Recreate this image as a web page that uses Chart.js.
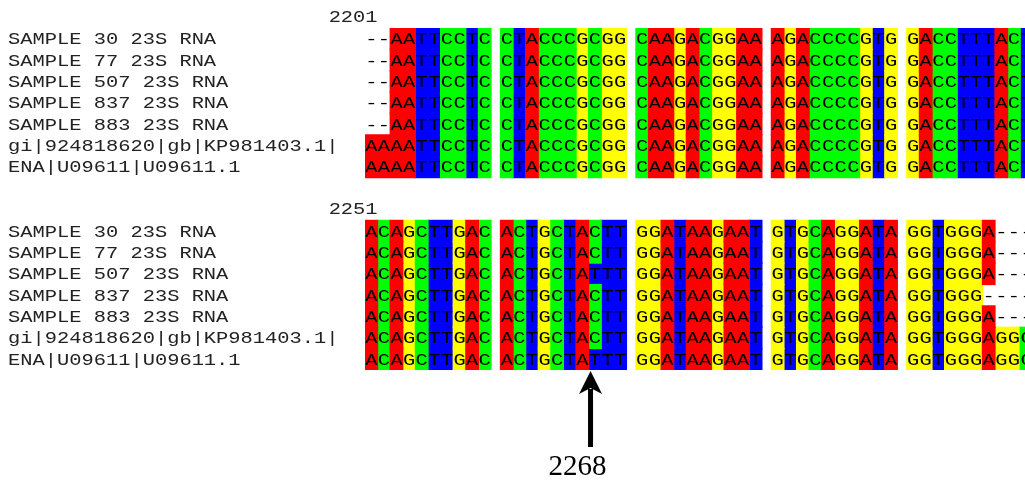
<!DOCTYPE html>
<html>
<head>
<meta charset="utf-8">
<script src="https://cdn.jsdelivr.net/npm/chart.js@4.4.0/dist/chart.umd.min.js"></script>
<style>
  html, body { margin: 0; padding: 0; background: #fff; }
  #wrap { width: 1025px; height: 482px; position: relative; }
</style>
</head>
<body>
<div id="wrap"><canvas id="alignChart"></canvas></div>
<script>
const rowNames = [
  "SAMPLE 30 23S RNA",
  "SAMPLE 77 23S RNA",
  "SAMPLE 507 23S RNA",
  "SAMPLE 837 23S RNA",
  "SAMPLE 883 23S RNA",
  "gi|924818620|gb|KP981403.1|",
  "ENA|U09611|U09611.1"
];
const lineStarts = [2201, 2251];
const seq2201 = [
  "--AATTCCTC CTACCCGCGG CAAGACGGAA AGACCCCGTG GACCTTTACT",
  "--AATTCCTC CTACCCGCGG CAAGACGGAA AGACCCCGTG GACCTTTACT",
  "--AATTCCTC CTACCCGCGG CAAGACGGAA AGACCCCGTG GACCTTTACT",
  "--AATTCCTC CTACCCGCGG CAAGACGGAA AGACCCCGTG GACCTTTACT",
  "--AATTCCTC CTACCCGCGG CAAGACGGAA AGACCCCGTG GACCTTTACT",
  "AAAATTCCTC CTACCCGCGG CAAGACGGAA AGACCCCGTG GACCTTTACT",
  "AAAATTCCTC CTACCCGCGG CAAGACGGAA AGACCCCGTG GACCTTTACT"
];
const seq2251 = [
  "ACAGCTTGAC ACTGCTACTT GGATAAGAAT GTGCAGGATA GGTGGGA---",
  "ACAGCTTGAC ACTGCTACTT GGATAAGAAT GTGCAGGATA GGTGGGA---",
  "ACAGCTTGAC ACTGCTATTT GGATAAGAAT GTGCAGGATA GGTGGGA---",
  "ACAGCTTGAC ACTGCTACTT GGATAAGAAT GTGCAGGATA GGTGGG----",
  "ACAGCTTGAC ACTGCTACTT GGATAAGAAT GTGCAGGATA GGTGGGA---",
  "ACAGCTTGAC ACTGCTACTT GGATAAGAAT GTGCAGGATA GGTGGGAGGC",
  "ACAGCTTGAC ACTGCTATTT GGATAAGAAT GTGCAGGATA GGTGGGAGGC"
];
const markPos = 2268;
const bases = ["A", "C", "G", "T"];
const baseColors = ["#ff0000", "#00ff00", "#ffff00", "#0000ff"];

const lines = [seq2201, seq2251];
const BLOCK_STEP = 10.75;   // 10 columns + gap between blocks
const LINE_STEP = 9;        // 7 rows + 2 blank rows
const MONO = '17px "Liberation Mono", "Courier New", monospace';

// one floating bar for each run of the same base inside a block
function buildData(base) {
  let out = [];
  lines.forEach((seqs, li) => {
    seqs.forEach((s, r) => {
      s.split(" ").forEach((blk, b) => {
        let i = 0;
        while (i < blk.length) {
          if (blk[i] !== base) { i++; continue; }
          let j = i;
          while (j < blk.length && blk[j] === base) j++;
          out.push({ x: [b * BLOCK_STEP + i, b * BLOCK_STEP + j], y: li * LINE_STEP + r });
          i = j;
        }
      });
    });
  });
  return out;
}

function wideText(ctx, txt, x, y, align) {
  ctx.save();
  ctx.translate(x, y);
  ctx.scale(1.2, 1);
  ctx.textAlign = align;
  ctx.fillText(txt, 0, 0);
  ctx.restore();
}

const alignText = {
  id: "alignText",
  afterDatasetsDraw(chart) {
    const ctx = chart.ctx;
    const xs = chart.scales.x, ys = chart.scales.y;
    ctx.save();
    ctx.font = MONO;
    ctx.textBaseline = "middle";
    lines.forEach((seqs, li) => {
      ctx.fillStyle = "#222";
      wideText(ctx, String(lineStarts[li]), xs.getPixelForValue(1), ys.getPixelForValue(li * LINE_STEP - 1), "right");
      seqs.forEach((s, r) => {
        const y = ys.getPixelForValue(li * LINE_STEP + r) + 1;
        ctx.fillStyle = "#222";
        wideText(ctx, rowNames[r], 8, y, "left");
        ctx.fillStyle = "#000";
        s.split(" ").forEach((blk, b) => {
          for (let i = 0; i < blk.length; i++) {
            wideText(ctx, blk[i], xs.getPixelForValue(b * BLOCK_STEP + i + 0.5), y, "center");
          }
        });
      });
    });

    // arrow under the marked column
    const off = markPos - lineStarts[1];
    const ax = xs.getPixelForValue(Math.floor(off / 10) * BLOCK_STEP + (off % 10) + 0.15);
    const top = ys.getPixelForValue(LINE_STEP + 6.5) + 1;
    ctx.fillStyle = "#000";
    ctx.fillRect(ax - 2.5, top + 18, 5, 58);
    ctx.beginPath();
    ctx.moveTo(ax, top);
    ctx.lineTo(ax - 11.5, top + 23);
    ctx.lineTo(ax, top + 17);
    ctx.lineTo(ax + 11.5, top + 23);
    ctx.closePath();
    ctx.fill();
    ctx.font = '29px "Liberation Serif", "Times New Roman", serif';
    ctx.textAlign = "center";
    ctx.textBaseline = "alphabetic";
    ctx.fillText(String(markPos), ax - 13, top + 104);
    ctx.restore();
  }
};

new Chart(document.getElementById("alignChart"), {
  type: "bar",
  data: {
    datasets: bases.map((b, k) => ({
      label: b,
      data: buildData(b),
      backgroundColor: baseColors[k],
      borderWidth: 0,
      inflateAmount: 0.6
    }))
  },
  options: {
    indexAxis: "y",
    responsive: true,
    maintainAspectRatio: false,
    animation: false,
    grouped: false,
    categoryPercentage: 1,
    barPercentage: 1,
    layout: { padding: { left: 365, right: 0, top: 28, bottom: 112 } },
    scales: {
      x: { type: "linear", min: 0, max: 52.38, display: false },
      y: { type: "linear", min: -0.5, max: 15.5, reverse: true, display: false, offset: false,
           ticks: { stepSize: 1, includeBounds: false } }
    },
    plugins: { legend: { display: false }, tooltip: { enabled: false } }
  },
  plugins: [alignText]
});
</script>
</body>
</html>
